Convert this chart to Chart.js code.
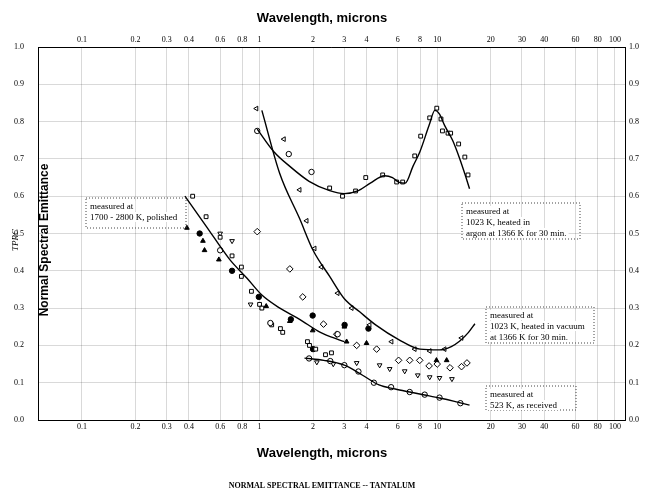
<!DOCTYPE html><html><head><meta charset="utf-8">
<script src="https://cdn.jsdelivr.net/npm/chart.js@4"></script>
<style>html,body{margin:0;padding:0;background:#fff}#w{width:672px;height:502px}</style></head><body><div id="w"><canvas id="c"></canvas></div>
<script>
const xTicks=[0.1,0.2,0.3,0.4,0.6,0.8,1,2,3,4,6,8,10,20,30,40,60,80,100];
const yTicks=[0,0.1,0.2,0.3,0.4,0.5,0.6,0.7,0.8,0.9,1.0];
// curves
const curvePolishedX=[0.38,0.5,0.68,0.85,1.03,1.3,1.68,2.2,2.8,3.0];
const curvePolishedY=[0.60,0.52,0.43,0.38,0.335,0.30,0.27,0.235,0.215,0.21];
const curveArgonX=[0.97,1.2,1.48,1.9,2.48,3.0,3.6,4.2,5.05,5.6,6.1,6.6,7.3,8.0,9.0,9.7,10.3,11.0,12.2,13.4,14.3,15.2];
const curveArgonY=[0.78,0.72,0.68,0.64,0.615,0.607,0.615,0.635,0.655,0.65,0.637,0.635,0.68,0.72,0.79,0.83,0.82,0.79,0.75,0.70,0.66,0.62];
const curveVacuumX=[1.03,1.3,1.68,2.0,2.48,3.0,3.66,4.5,6.1,8.0,10.3,12.0,13.4,15.0,16.3];
const curveVacuumY=[0.83,0.66,0.54,0.455,0.385,0.325,0.29,0.255,0.215,0.19,0.188,0.197,0.212,0.235,0.258];
const curveReceivedX=[1.79,2.3,3.0,3.8,4.7,5.8,7.0,8.5,10.3,12.5,15.2];
const curveReceivedY=[0.166,0.16,0.147,0.12,0.094,0.083,0.075,0.067,0.059,0.05,0.04];
// markers
const argonSqX=[2.48,2.93,3.47,3.96,4.93,5.91,6.39,7.47,8.07,9.07,9.94,10.5,10.7,11.5,11.9,13.2,14.3,14.9];
const argonSqY=[0.622,0.60,0.614,0.65,0.657,0.638,0.638,0.708,0.761,0.81,0.836,0.807,0.775,0.769,0.769,0.74,0.705,0.657];
const argonCircX=[0.97,1.46,1.96];
const argonCircY=[0.775,0.713,0.665];
const vacTriX=[0.96,1.37,1.68,1.84,2.04,2.23,2.75,3.30,4.16,5.53,7.47,9.07,11.0,13.7];
const vacTriY=[0.835,0.753,0.617,0.534,0.46,0.41,0.34,0.30,0.255,0.21,0.19,0.185,0.19,0.22];
const recCircX=[1.9,2.5,3.0,3.6,4.4,5.5,7.0,8.5,10.3,13.5];
const recCircY=[0.165,0.158,0.147,0.13,0.10,0.088,0.075,0.068,0.06,0.045];
const polCircX=[0.33,0.60,1.15,2.75];
const polCircY=[0.54,0.455,0.26,0.23];
const polTriX=[0.39,0.48,0.49,0.59,1.09,1.48,1.99,3.09,4.0,9.9,11.3,3.0];
const polTriY=[0.515,0.48,0.455,0.43,0.305,0.265,0.24,0.21,0.206,0.16,0.16,0.25];
const polSqX=[0.42,0.50,0.60,0.70,0.79,0.79,0.90,1.0,1.03,1.17,1.31,1.35,1.86,1.91,2.07,2.35,2.54];
const polSqY=[0.60,0.545,0.49,0.44,0.41,0.385,0.345,0.31,0.30,0.255,0.245,0.235,0.21,0.20,0.19,0.175,0.18];
const polFillX=[0.46,0.70,0.99,1.50,1.99,3.01,2.0,4.1];
const polFillY=[0.50,0.40,0.33,0.27,0.28,0.255,0.19,0.245];
const downTriX=[0.60,0.70,0.89,3.52,4.74,5.4,6.56,7.77,9.07,10.3,12.1,2.1,2.6];
const downTriY=[0.50,0.48,0.31,0.153,0.147,0.137,0.131,0.12,0.115,0.113,0.11,0.155,0.15];
const diamondX=[0.97,1.48,1.75,2.29,2.72,3.52,4.56,6.06,7.0,7.97,9.0,10.0,11.8,13.7,14.7];
const diamondY=[0.505,0.405,0.33,0.257,0.23,0.20,0.19,0.16,0.16,0.16,0.145,0.15,0.14,0.143,0.153];

const pts=(xs,ys)=>xs.map((x,i)=>({x,y:ys[i]}));
const line=(xs,ys)=>({type:'line',data:pts(xs,ys),borderColor:'#000',borderWidth:1.4,pointRadius:0,cubicInterpolationMode:'monotone',fill:false});
const mk=(xs,ys,style,filled,r=2.7,rot=0)=>({type:'scatter',data:pts(xs,ys),pointStyle:style,pointRotation:rot,pointRadius:r,borderColor:'#000',borderWidth:1,backgroundColor:filled?'#000':'#fff'});

const notes={id:'notes',afterDraw(c){const g=c.ctx;g.save();g.fillStyle='#000';
 g.font='bold 13px "Liberation Sans"';g.textAlign='center';
 g.fillText('Wavelength, microns',322,22);g.fillText('Wavelength, microns',322,457);
 g.font='bold 12px "Liberation Sans"';
 g.save();g.translate(48,240);g.rotate(-Math.PI/2);g.fillText('Normal Spectral Emittance',0,0);g.restore();
 g.save();g.translate(18,240);g.rotate(-Math.PI/2);g.font='italic 9px "Liberation Serif"';g.fillText('TPRC',0,0);g.restore();
 g.font='bold 8px "Liberation Serif"';g.fillText('NORMAL SPECTRAL EMITTANCE -- TANTALUM',322,488);
 g.font='9px "Liberation Serif"';g.textAlign='left';
 const box=(x,y,w,h,lines)=>{g.setLineDash([1,2]);g.strokeStyle='#444';g.strokeRect(x,y,w,h);g.setLineDash([]);
   lines.forEach((t,i)=>{g.fillStyle='#fff';g.fillRect(x+2,y+3+i*11,g.measureText(t).width+4,10);g.fillStyle='#000';g.fillText(t,x+4,y+11+i*11);});};
 box(86,198,100,30,['measured at','1700 - 2800 K, polished']);
 box(462,203,118,36,['measured at','1023 K, heated in','argon at 1366 K for 30 min.']);
 box(486,307,108,36,['measured at','1023 K, heated in vacuum','at 1366 K for 30 min.']);
 box(486,386,90,24,['measured at','523 K, as received']);
 g.restore();}};

const xAxis=(pos)=>({type:'logarithmic',position:pos,min:0.0566,max:114,
 afterBuildTicks:s=>{s.ticks=xTicks.map(v=>({value:v}));},
 afterFit:s=>{s.height=pos==='top'?47:82;},
 grid:{display:pos==='bottom',color:'rgba(0,0,0,0.3)',lineWidth:0.5,borderDash:[1,9],drawTicks:false},border:{color:'#000'},
 ticks:{autoSkip:false,maxRotation:0,padding:2,color:'#000',font:{family:'Liberation Serif',size:8},callback:v=>String(v)}});
const yAxis=(pos)=>({type:'linear',position:pos,min:0,max:1,
 afterBuildTicks:s=>{s.ticks=yTicks.map(v=>({value:v}));},
 afterFit:s=>{s.width=pos==='left'?38:47;},
 grid:{display:pos==='left',color:'rgba(0,0,0,0.3)',lineWidth:0.5,borderDash:[1,9],drawTicks:false},border:{color:'#000'},
 ticks:{padding:pos==='left'?14:4,color:'#000',font:{family:'Liberation Serif',size:8},callback:v=>v.toFixed(1)}});

new Chart(document.getElementById('c'),{data:{datasets:[
 line(curvePolishedX,curvePolishedY),line(curveArgonX,curveArgonY),line(curveVacuumX,curveVacuumY),line(curveReceivedX,curveReceivedY),
 mk(argonSqX,argonSqY,'rect',false),mk(argonCircX,argonCircY,'circle',false),
 mk(vacTriX,vacTriY,'triangle',false,2.7,-90),mk(recCircX,recCircY,'circle',false),
 mk(polCircX,polCircY,'circle',false),mk(polTriX,polTriY,'triangle',true),mk(polSqX,polSqY,'rect',false),
 mk(polFillX,polFillY,'circle',true),mk(downTriX,downTriY,'triangle',false,2.7,180),mk(diamondX,diamondY,'rectRot',false,3.3)
]},options:{responsive:true,maintainAspectRatio:false,animation:false,
 layout:{padding:0},plugins:{legend:{display:false},tooltip:{enabled:false}},
 scales:{x:xAxis('bottom'),x2:xAxis('top'),y:yAxis('left'),y2:yAxis('right')}},plugins:[notes]});
</script></body></html>
